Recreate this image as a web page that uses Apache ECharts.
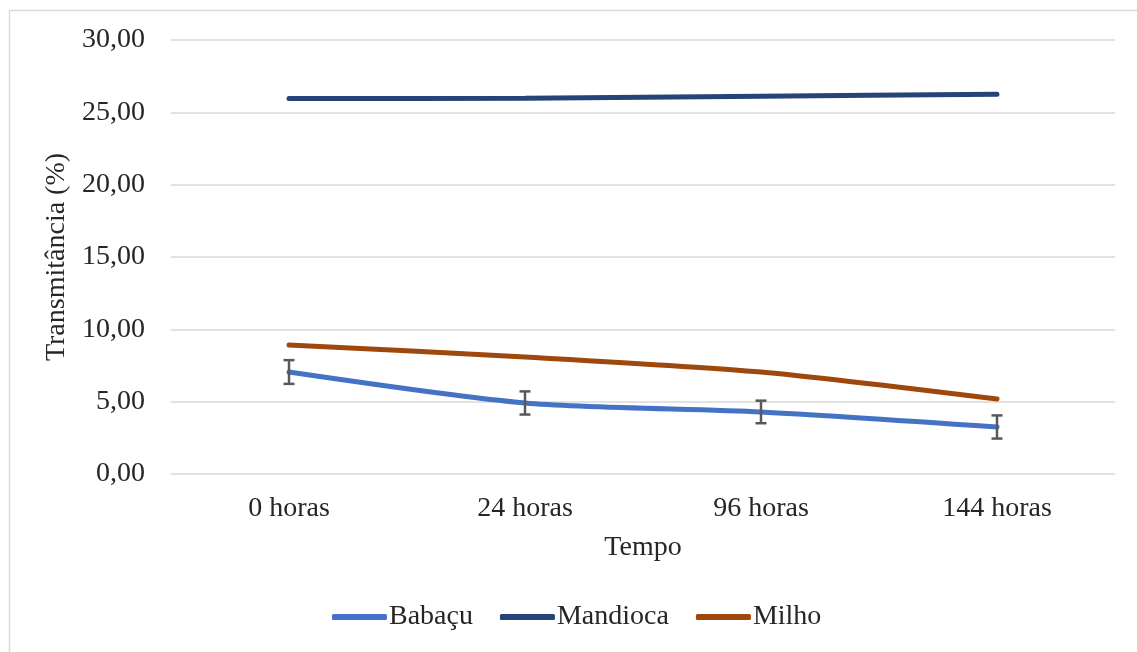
<!DOCTYPE html>
<html><head><meta charset="utf-8">
<script src="https://cdn.jsdelivr.net/npm/echarts@6/dist/echarts.min.js"></script>
<style>html,body{margin:0;padding:0;background:#fff}#c{width:1137px;height:652px}</style>
</head><body><div id="c"></div>
<script>
var categories = ['0 horas', '24 horas', '96 horas', '144 horas'];
var babacu = [7.05, 4.91, 4.29, 3.25];
var babacuErr = [0.82, 0.8, 0.78, 0.8];
var mandioca = [25.95, 25.97, 26.12, 26.25];
var milho = [8.92, 8.09, 7.05, 5.18];
var yTicks = [0, 5, 10, 15, 20, 25, 30];

var font = 'Liberation Serif';
var chart = echarts.init(document.getElementById('c'));
var errData = categories.map(function (c, i) { return [i, babacu[i] - babacuErr[i], babacu[i] + babacuErr[i]]; });

chart.setOption({
  animation: false,
  graphic: [{
    type: 'rect', shape: { x: 9.5, y: 10.5, width: 1200, height: 700 },
    style: { fill: 'none', stroke: '#d9d9d9', lineWidth: 1.5 }, silent: true
  }],
  grid: { left: 171, right: 22, top: 40, bottom: 178 },
  legend: {
    data: ['Babaçu', 'Mandioca', 'Milho'],
    icon: 'roundRect',
    left: 327, top: 598, itemWidth: 55, itemHeight: 6, itemGap: 27,
    textStyle: { fontFamily: font, fontSize: 28, color: '#262626', padding: [0, 0, 0, -3] }
  },
  xAxis: {
    type: 'category', data: categories, boundaryGap: true,
    axisLine: { show: false }, axisTick: { show: false },
    axisLabel: { fontFamily: font, fontSize: 28, color: '#262626', margin: 21 },
    name: 'Tempo', nameLocation: 'middle', nameGap: 60,
    nameTextStyle: { fontFamily: font, fontSize: 28, color: '#262626' }
  },
  yAxis: {
    type: 'value', min: 0, max: 30, interval: 5,
    axisLine: { show: false }, axisTick: { show: false },
    splitLine: { lineStyle: { color: '#d9d9d9', width: 1.5 } },
    axisLabel: { fontFamily: font, fontSize: 28, color: '#262626', margin: 26,
      formatter: function (v) { return v.toFixed(2).replace('.', ','); } },
    name: 'Transmitância (%)', nameLocation: 'middle', nameGap: 93,
    nameTextStyle: { fontFamily: font, fontSize: 28, color: '#262626' }
  },
  series: [
    { name: 'Babaçu', type: 'line', data: babacu, smooth: 0.25, symbol: 'none', z: 3,
      lineStyle: { color: '#4472C4', width: 5, cap: 'round' }, itemStyle: { color: '#4472C4' } },
    { name: 'Mandioca', type: 'line', data: mandioca, smooth: 0.25, symbol: 'none', z: 3,
      lineStyle: { color: '#264478', width: 5, cap: 'round' }, itemStyle: { color: '#264478' } },
    { name: 'Milho', type: 'line', data: milho, smooth: 0.25, symbol: 'none', z: 3,
      lineStyle: { color: '#9E480E', width: 5, cap: 'round' }, itemStyle: { color: '#9E480E' } },
    { name: 'err', type: 'custom', data: errData, z: 4,
      renderItem: function (params, api) {
        var lo = api.coord([api.value(0), api.value(1)]);
        var hi = api.coord([api.value(0), api.value(2)]);
        var w = 5.5;
        var st = { stroke: '#595959', lineWidth: 2.5, fill: 'none' };
        return { type: 'group', children: [
          { type: 'line', shape: { x1: lo[0], y1: lo[1], x2: hi[0], y2: hi[1] }, style: st },
          { type: 'line', shape: { x1: lo[0] - w, y1: lo[1], x2: lo[0] + w, y2: lo[1] }, style: st },
          { type: 'line', shape: { x1: hi[0] - w, y1: hi[1], x2: hi[0] + w, y2: hi[1] }, style: st }
        ]};
      }
    }
  ]
});
</script></body></html>
